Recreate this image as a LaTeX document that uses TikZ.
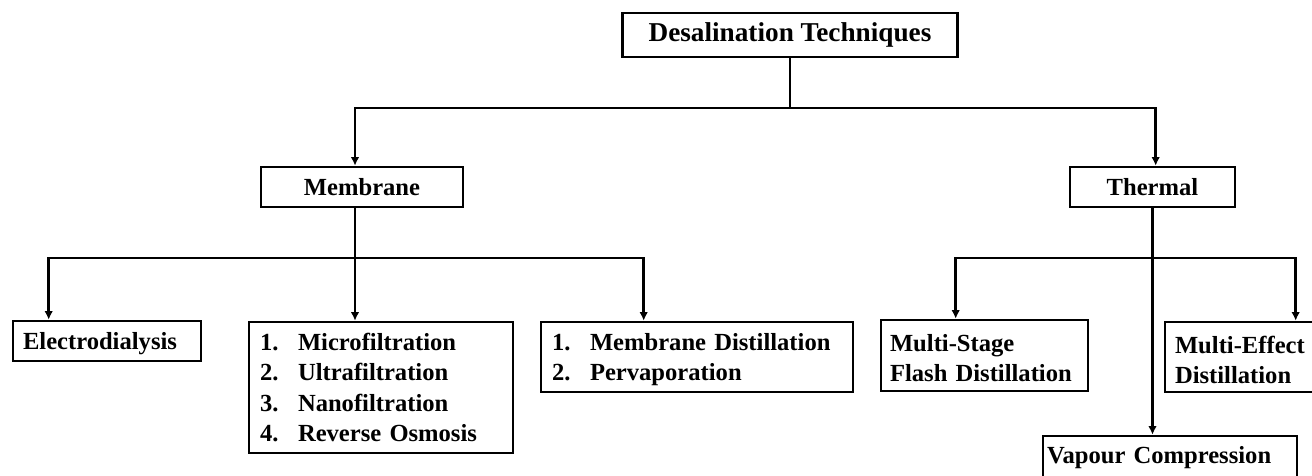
\documentclass[tikz,border=0pt]{standalone}
\usepackage{fontspec}
\setmainfont{Liberation Serif}
\usepackage{tikz}
\usetikzlibrary{positioning}
\usetikzlibrary{shapes,arrows.meta,positioning}
\tikzstyle{block} = [rectangle, draw, line width=1.5pt, inner sep=0pt,
font=\bfseries\fontsize{14pt}{17.2pt}\selectfont]
\tikzstyle{lblock} = [block, align=left]
\tikzstyle{line} = [draw, line width=1.5pt, -{Latex[length=0.17cm,width=0.17cm]}]
\newcommand{\lnum}[1]{\makebox[0.76cm][l]{#1}}
\newcommand{\topgap}{\rule{0pt}{13pt}}

\begin{document}
\begin{tikzpicture}[x=0.02cm, y=-0.02cm]
    \useasboundingbox (0,0) rectangle (1312,476);
    % nodes
   \node [block, minimum width=6.7cm, minimum height=0.88cm, font=\bfseries\fontsize{15.5pt}{18pt}\selectfont] (tech) at (790,35) {Desalination Techniques};
   \node [block, minimum width=4.04cm, minimum height=0.8cm] (memb) at (362,187) {Membrane};
   \node [block, minimum width=3.3cm, minimum height=0.8cm] (therm) at (1152.5,187) {Thermal};
   \node [lblock, inner xsep=0.2cm, text width=3.36cm, minimum height=0.8cm] (elec) at (107,341) {\topgap Electrodialysis};
   \node [lblock, inner xsep=0.22cm, text width=4.84cm, minimum height=2.62cm] (filt) at (381,387.5)
        {\lnum{1.}Microfiltration\\ \lnum{2.}Ultrafiltration\\ \lnum{3.}Nanofiltration\\ \lnum{4.}Reverse Osmosis};
   \node [lblock, inner xsep=0.22cm, text width=5.8cm, minimum height=1.4cm] (mdist) at (697,357)
        {\topgap\lnum{1.}Membrane Distillation\\ \lnum{2.}Pervaporation};
   \node [lblock, inner xsep=0.18cm, text width=3.78cm, minimum height=1.42cm] (msf) at (984.5,355.5) {\topgap Multi-Stage\\ Flash Distillation};
   \node [lblock, inner xsep=0.2cm, text width=2.9cm, minimum height=1.4cm] (med) at (1247.5,357) {\topgap Multi-Effect\\ Distillation};
   \node [lblock, inner xsep=0.08cm, text width=4.92cm, minimum height=0.88cm] (vc) at (1170,458) {Vapour Compression};
   \coordinate (tsplit) at (790,108);
   \coordinate (msplit) at (355,258);
   \coordinate (tbranch) at (1153,258);

    % edges
          \draw [line width=1.5pt] (tech.south) -- (tsplit);
          \path [line] (tsplit) -| (memb.north -| msplit);
          \path [line] (tsplit) -| ([xshift=1.74cm]therm.north west);
          \draw [line width=1.5pt] (memb.south -| msplit) -- (msplit);
          \path [line] (msplit) -| ([xshift=0.74cm]elec.north west);
          \path [line] (msplit) -- (msplit |- filt.north);
          \path [line] (msplit) -| ([xshift=2.08cm]mdist.north west);
          \path [line] (therm.south) -- (therm.south |- vc.north);
          \path [line] (tbranch) -| ([xshift=1.52cm]msf.north west);
          \path [line] (tbranch) -| ([xshift=2.64cm]med.north west);

  \end{tikzpicture}
\end{document}
